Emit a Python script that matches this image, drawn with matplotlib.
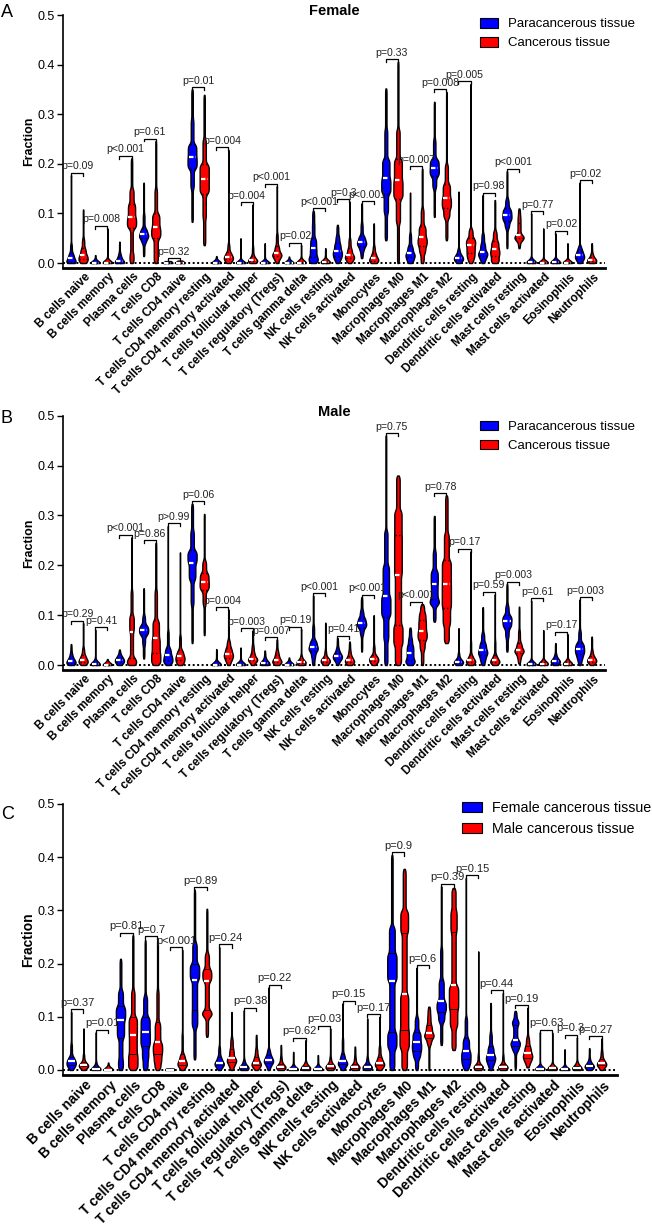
import matplotlib.pyplot as plt
import numpy as np
from matplotlib.patches import Patch

plt.rcParams['font.family'] = ['Liberation Sans', 'DejaVu Sans']

cell_types = ['B cells naive', 'B cells memory', 'Plasma cells', 'T cells CD8',
              'T cells CD4 naive', 'T cells CD4 memory resting',
              'T cells CD4 memory activated', 'T cells follicular helper',
              'T cells regulatory (Tregs)', 'T cells gamma delta',
              'NK cells resting', 'NK cells activated', 'Monocytes',
              'Macrophages M0', 'Macrophages M1', 'Macrophages M2',
              'Dendritic cells resting', 'Dendritic cells activated',
              'Mast cells resting', 'Mast cells activated', 'Eosinophils',
              'Neutrophils']

# every violin is given by its quantiles at these levels
qlevels = np.array([0, 0.10, 0.25, 0.50, 0.75, 0.90, 1.0])

# --- A: female, paracancerous vs cancerous
female_para = [
    [0, 0.001, 0.003, 0.01, 0.02, 0.04, 0.177],
    [0, 0, 0, 0, 0.001, 0.003, 0.016],
    [0, 0, 0.001, 0.004, 0.012, 0.02, 0.043],
    [0.014, 0.04, 0.05, 0.058, 0.07, 0.1, 0.162],
    [0, 0, 0, 0, 0, 0.001, 0.004],
    [0.083, 0.15, 0.19, 0.214, 0.24, 0.29, 0.35],
    [0, 0, 0, 0, 0.001, 0.003, 0.014],
    [0, 0, 0, 0, 0.001, 0.004, 0.05],
    [0, 0, 0, 0, 0.001, 0.004, 0.04],
    [0, 0, 0, 0, 0, 0.002, 0.013],
    [0, 0.005, 0.012, 0.03, 0.05, 0.08, 0.105],
    [0, 0.008, 0.015, 0.025, 0.04, 0.055, 0.077],
    [0.01, 0.025, 0.035, 0.043, 0.055, 0.08, 0.12],
    [0.046, 0.1, 0.14, 0.171, 0.21, 0.27, 0.352],
    [0, 0.005, 0.012, 0.02, 0.035, 0.06, 0.142],
    [0.093, 0.15, 0.175, 0.192, 0.21, 0.25, 0.325],
    [0, 0.003, 0.007, 0.011, 0.018, 0.03, 0.144],
    [0, 0.008, 0.015, 0.023, 0.04, 0.06, 0.137],
    [0.03, 0.07, 0.085, 0.097, 0.11, 0.13, 0.185],
    [0, 0, 0.001, 0.002, 0.004, 0.01, 0.1],
    [0, 0, 0.001, 0.002, 0.004, 0.008, 0.06],
    [0, 0.005, 0.01, 0.016, 0.025, 0.035, 0.162],
]
female_canc = [
    [0, 0.003, 0.008, 0.016, 0.03, 0.05, 0.108],
    [0, 0, 0, 0.001, 0.003, 0.008, 0.07],
    [0, 0.02, 0.07, 0.092, 0.12, 0.15, 0.211],
    [0, 0.02, 0.05, 0.072, 0.1, 0.15, 0.246],
    [0, 0, 0, 0, 0, 0.001, 0.005],
    [0.036, 0.09, 0.14, 0.17, 0.2, 0.25, 0.339],
    [0, 0.003, 0.008, 0.013, 0.022, 0.04, 0.228],
    [0, 0.002, 0.004, 0.006, 0.015, 0.035, 0.118],
    [0, 0.008, 0.014, 0.02, 0.035, 0.06, 0.155],
    [0, 0, 0, 0.001, 0.003, 0.008, 0.036],
    [0, 0, 0.001, 0.002, 0.004, 0.008, 0.03],
    [0, 0.005, 0.01, 0.016, 0.03, 0.05, 0.124],
    [0, 0.002, 0.005, 0.01, 0.02, 0.035, 0.08],
    [0, 0.08, 0.13, 0.167, 0.21, 0.27, 0.406],
    [0, 0.02, 0.035, 0.052, 0.075, 0.11, 0.19],
    [0.046, 0.09, 0.11, 0.132, 0.16, 0.2, 0.345],
    [0, 0.01, 0.02, 0.036, 0.05, 0.07, 0.361],
    [0, 0.005, 0.015, 0.028, 0.045, 0.065, 0.127],
    [0.03, 0.045, 0.05, 0.056, 0.08, 0.095, 0.11],
    [0, 0, 0, 0.001, 0.002, 0.005, 0.07],
    [0, 0, 0, 0.001, 0.002, 0.004, 0.04],
    [0, 0.002, 0.004, 0.006, 0.012, 0.02, 0.04],
]
female_p = ['p=0.09', 'p=0.008', 'p<0.001', 'p=0.61', 'p=0.32', 'p=0.01',
            'p=0.004', 'p=0.004', 'p<0.001', 'p=0.02', 'p<0.001', 'p=0.3',
            'p<0.001', 'p=0.33', 'p=0.007', 'p=0.008', 'p=0.005', 'p=0.98',
            'p<0.001', 'p=0.77', 'p=0.02', 'p=0.02']

# --- B: male, paracancerous vs cancerous
male_para = [
    [0, 0.002, 0.004, 0.008, 0.015, 0.025, 0.042],
    [0, 0, 0.001, 0.002, 0.005, 0.012, 0.071],
    [0, 0.003, 0.006, 0.01, 0.015, 0.02, 0.031],
    [0.013, 0.04, 0.06, 0.07, 0.08, 0.1, 0.154],
    [0, 0.005, 0.01, 0.02, 0.035, 0.07, 0.279],
    [0.044, 0.12, 0.17, 0.205, 0.23, 0.27, 0.323],
    [0, 0, 0, 0.001, 0.003, 0.008, 0.032],
    [0, 0, 0, 0.001, 0.003, 0.008, 0.035],
    [0, 0, 0.002, 0.004, 0.008, 0.015, 0.029],
    [0, 0, 0, 0, 0.002, 0.005, 0.015],
    [0, 0.015, 0.028, 0.037, 0.05, 0.08, 0.139],
    [0, 0.008, 0.013, 0.018, 0.025, 0.035, 0.054],
    [0.027, 0.06, 0.075, 0.084, 0.095, 0.11, 0.136],
    [0, 0.05, 0.097, 0.139, 0.2, 0.27, 0.46],
    [0, 0.005, 0.01, 0.025, 0.04, 0.055, 0.075],
    [0.087, 0.12, 0.132, 0.162, 0.19, 0.23, 0.299],
    [0, 0.002, 0.004, 0.007, 0.012, 0.025, 0.074],
    [0, 0.01, 0.02, 0.03, 0.045, 0.065, 0.116],
    [0.027, 0.055, 0.075, 0.088, 0.1, 0.12, 0.162],
    [0, 0, 0.001, 0.002, 0.004, 0.01, 0.129],
    [0, 0.002, 0.005, 0.008, 0.013, 0.022, 0.044],
    [0, 0.012, 0.022, 0.033, 0.045, 0.07, 0.131],
]
male_canc = [
    [0, 0.003, 0.006, 0.011, 0.02, 0.035, 0.084],
    [0, 0, 0, 0, 0.001, 0.003, 0.012],
    [0, 0.005, 0.015, 0.067, 0.1, 0.15, 0.256],
    [0, 0.01, 0.025, 0.054, 0.09, 0.15, 0.245],
    [0, 0.004, 0.01, 0.018, 0.03, 0.06, 0.226],
    [0.06, 0.12, 0.15, 0.167, 0.185, 0.21, 0.303],
    [0, 0.008, 0.015, 0.023, 0.035, 0.05, 0.111],
    [0, 0.005, 0.01, 0.013, 0.025, 0.04, 0.069],
    [0, 0.003, 0.006, 0.01, 0.02, 0.03, 0.051],
    [0, 0.002, 0.004, 0.006, 0.01, 0.02, 0.072],
    [0, 0.003, 0.006, 0.01, 0.015, 0.03, 0.085],
    [0, 0.003, 0.006, 0.01, 0.018, 0.03, 0.047],
    [0, 0.004, 0.008, 0.013, 0.02, 0.04, 0.1],
    [0, 0.04, 0.08, 0.18, 0.26, 0.31, 0.38],
    [0, 0.03, 0.05, 0.068, 0.09, 0.105, 0.122],
    [0.044, 0.08, 0.115, 0.162, 0.21, 0.264, 0.34],
    [0, 0.003, 0.006, 0.01, 0.02, 0.05, 0.228],
    [0, 0.003, 0.006, 0.01, 0.02, 0.05, 0.142],
    [0.003, 0.015, 0.025, 0.031, 0.045, 0.07, 0.117],
    [0, 0, 0.001, 0.003, 0.006, 0.01, 0.07],
    [0, 0, 0.001, 0.003, 0.006, 0.012, 0.062],
    [0, 0.004, 0.007, 0.011, 0.018, 0.03, 0.057],
]
male_p = ['p=0.29', 'p=0.41', 'p<0.001', 'p=0.86', 'p>0.99', 'p=0.06',
          'p=0.004', 'p=0.003', 'p=0.007', 'p=0.19', 'p<0.001', 'p=0.41',
          'p<0.001', 'p=0.75', 'p<0.001', 'p=0.78', 'p=0.17', 'p=0.59',
          'p=0.003', 'p=0.61', 'p=0.17', 'p=0.003']

# --- C: female cancerous vs male cancerous
fem_tumour = [
    [0, 0.005, 0.01, 0.016, 0.025, 0.05, 0.109],
    [0, 0, 0.001, 0.002, 0.005, 0.015, 0.071],
    [0, 0.02, 0.06, 0.094, 0.12, 0.15, 0.209],
    [0, 0.021, 0.045, 0.072, 0.1, 0.14, 0.244],
    [0, 0, 0, 0, 0, 0.001, 0.003],
    [0.02, 0.08, 0.112, 0.169, 0.2, 0.24, 0.339],
    [0, 0.005, 0.01, 0.014, 0.025, 0.045, 0.231],
    [0, 0.001, 0.003, 0.005, 0.01, 0.02, 0.112],
    [0, 0.008, 0.014, 0.019, 0.028, 0.04, 0.155],
    [0, 0, 0, 0.001, 0.003, 0.008, 0.034],
    [0, 0, 0, 0.001, 0.003, 0.008, 0.028],
    [0, 0.006, 0.011, 0.016, 0.03, 0.06, 0.125],
    [0, 0.002, 0.004, 0.006, 0.012, 0.025, 0.097],
    [0, 0.04, 0.072, 0.167, 0.219, 0.27, 0.404],
    [0, 0.022, 0.035, 0.052, 0.072, 0.1, 0.192],
    [0.047, 0.09, 0.109, 0.13, 0.17, 0.23, 0.345],
    [0, 0.01, 0.02, 0.036, 0.06, 0.1, 0.361],
    [0, 0.01, 0.018, 0.028, 0.045, 0.07, 0.126],
    [0.003, 0.035, 0.045, 0.056, 0.085, 0.094, 0.111],
    [0, 0, 0.001, 0.002, 0.004, 0.008, 0.071],
    [0, 0, 0, 0.001, 0.002, 0.005, 0.039],
    [0, 0.003, 0.005, 0.0075, 0.012, 0.02, 0.041],
]
male_tumour = [
    [0, 0.004, 0.007, 0.009, 0.015, 0.03, 0.078],
    [0, 0, 0, 0, 0.001, 0.003, 0.014],
    [0, 0.012, 0.03, 0.066, 0.1, 0.15, 0.253],
    [0, 0.014, 0.03, 0.052, 0.09, 0.15, 0.247],
    [0, 0.006, 0.01, 0.017, 0.03, 0.07, 0.226],
    [0.0625, 0.1, 0.112, 0.167, 0.19, 0.22, 0.303],
    [0, 0.008, 0.015, 0.022, 0.04, 0.06, 0.109],
    [0, 0.005, 0.009, 0.014, 0.025, 0.04, 0.066],
    [0, 0.002, 0.004, 0.006, 0.012, 0.025, 0.047],
    [0, 0.001, 0.002, 0.004, 0.008, 0.015, 0.056],
    [0, 0.002, 0.004, 0.007, 0.012, 0.025, 0.078],
    [0, 0.002, 0.004, 0.006, 0.012, 0.025, 0.044],
    [0, 0.005, 0.009, 0.014, 0.025, 0.045, 0.1],
    [0, 0.04, 0.075, 0.1425, 0.2575, 0.3, 0.378],
    [0, 0.047, 0.06, 0.069, 0.085, 0.103, 0.119],
    [0.0375, 0.08, 0.114, 0.159, 0.259, 0.3, 0.342],
    [0, 0.002, 0.004, 0.006, 0.012, 0.03, 0.223],
    [0, 0.002, 0.004, 0.006, 0.012, 0.03, 0.145],
    [0.005, 0.015, 0.022, 0.031, 0.045, 0.0625, 0.117],
    [0, 0, 0.001, 0.003, 0.006, 0.01, 0.07],
    [0, 0.001, 0.002, 0.004, 0.008, 0.015, 0.061],
    [0, 0.005, 0.009, 0.0125, 0.02, 0.035, 0.059],
]
tumour_p = ['p=0.37', 'p=0.01', 'p=0.81', 'p=0.7', 'p<0.001', 'p=0.89',
            'p=0.24', 'p=0.38', 'p=0.22', 'p=0.62', 'p=0.03', 'p=0.15',
            'p=0.17', 'p=0.9', 'p=0.6', 'p=0.39', 'p=0.15', 'p=0.44',
            'p=0.19', 'p=0.63', 'p=0.3', 'p=0.27']

BLUE = '#0000ff'
RED = '#ff0000'
W, H = 652, 1232


def violin_stats(q):
    # density from the quantiles (piecewise constant), lightly smoothed
    q = np.asarray(q, dtype=float)
    step, sigma = 0.0005, 0.004
    pad = 4 * sigma
    grid = np.arange(q[0] - pad, q[-1] + pad + step, step)
    dens = np.zeros(grid.size)
    for a, b, dp in zip(q[:-1], q[1:], np.diff(qlevels)):
        if b - a > step:
            dens[(grid >= a) & (grid < b)] += dp / (b - a)
        else:
            dens[np.abs(grid - a).argmin()] += dp / step
    k = np.arange(-pad, pad + step / 2, step)
    kern = np.exp(-0.5 * (k / sigma) ** 2)
    dens = np.convolve(dens, kern / kern.sum(), mode='same')
    keep = (grid >= q[0] - 1e-9) & (grid <= q[-1] + 1e-9)
    return {'coords': grid[keep], 'vals': dens[keep], 'mean': q[3],
            'median': q[3], 'min': q[0], 'max': q[-1]}


def draw_panel(ax, blue, red, pvals, solid_marks=False, fs_p=7.6, fs_x=8.5,
               fs_y=9):
    width = 0.75
    ax.axhline(0, color='black', lw=1.4, ls=(0, (1, 1.3)), zorder=1)
    for i in range(len(cell_types)):
        for j, (q, col) in enumerate([(blue[i], BLUE), (red[i], RED)]):
            pos = 2 * i + j
            st = violin_stats(q)
            parts = ax.violin([st], positions=[pos], widths=width,
                              showextrema=False)
            body = parts['bodies'][0]
            body.set_facecolor(col)
            body.set_edgecolor('black')
            body.set_linewidth(1.0)
            body.set_alpha(1)
            body.set_zorder(2)
            vmax = st['vals'].max()
            for lev, c in [(q[2], 'black'), (q[4], 'black'), (q[3], 'white')]:
                hw = 0.5 * width * np.interp(lev, st['coords'], st['vals']) / vmax
                if hw < 0.08:
                    continue
                if c == 'white':
                    ls = '-' if solid_marks else (0, (2, 1))
                    lw = 1.6
                else:
                    ls = '-' if solid_marks else (0, (1, 1.5))
                    lw = 0.7 if solid_marks else 1.0
                ax.plot([pos - 0.8 * hw, pos + 0.8 * hw], [lev, lev], color=c,
                        lw=lw, ls=ls, zorder=3, solid_capstyle='butt')
        # bracket with p value
        top = max(blue[i][-1], red[i][-1]) + 0.005
        x0, x1 = 2 * i, 2 * i + 1
        ax.plot([x0, x0, x1, x1], [top - 0.006, top, top, top - 0.006],
                color='black', lw=0.9, zorder=4)
        ax.annotate(pvals[i], ((x0 + x1) / 2, top), xytext=(0, 1),
                    textcoords='offset points', ha='center', va='bottom',
                    fontsize=fs_p, color='#222222', zorder=5)

    ax.set_ylim(-0.01, 0.5)
    ax.set_yticks([0, 0.1, 0.2, 0.3, 0.4, 0.5])
    ax.set_yticklabels(['0.0', '0.1', '0.2', '0.3', '0.4', '0.5'], fontsize=9)
    # labels hang from just right of each pair, as in the original
    ax.set_xticks([2 * i + 1.1 for i in range(len(cell_types))])
    ax.set_xticklabels(cell_types, rotation=45, ha='right', va='top',
                       rotation_mode='anchor', fontsize=fs_x, fontweight='bold')
    ax.tick_params(axis='x', length=0, pad=2)
    ax.tick_params(axis='y', length=4, width=1, direction='out', pad=2)
    ax.spines['top'].set_visible(False)
    ax.spines['right'].set_visible(False)
    ax.spines['left'].set_linewidth(1.2)
    ax.spines['bottom'].set_linewidth(2.0)
    ax.set_ylabel('Fraction', fontsize=fs_y, fontweight='bold')


fig = plt.figure(figsize=(W / 100, H / 100), dpi=100)


def add_axes_px(left, top, right, bottom):
    return fig.add_axes([left / W, 1 - bottom / H, (right - left) / W,
                         (bottom - top) / H])


panels = [
    dict(letter='A', blue=female_para, red=female_canc, pv=female_p,
         box=(63, 15, 605, 268), xr=44.1, title='Female',
         labels=['Paracancerous tissue', 'Cancerous tissue'],
         leg=(480, 18), fs_leg=9.5, lety=4, solid=False,
         fs_p=7.6, fs_x=8.5, fs_y=9),
    dict(letter='B', blue=male_para, red=male_canc, pv=male_p,
         box=(63, 415.7, 605, 670), xr=44.1, title='Male',
         labels=['Paracancerous tissue', 'Cancerous tissue'],
         leg=(480, 420.5), fs_leg=9.5, lety=410, solid=False,
         fs_p=7.6, fs_x=8.5, fs_y=9),
    dict(letter='C', blue=fem_tumour, red=male_tumour, pv=tumour_p,
         box=(63, 804, 617, 1075.3), xr=44.25, title=None,
         labels=['Female cancerous tissue', 'Male cancerous tissue'],
         leg=(462, 801), fs_leg=10.3, lety=806, solid=True,
         fs_p=8, fs_x=10, fs_y=10),
]

for p in panels:
    box = p['box']
    ax = add_axes_px(*box)
    draw_panel(ax, p['blue'], p['red'], p['pv'], solid_marks=p['solid'],
               fs_p=p['fs_p'], fs_x=p['fs_x'], fs_y=p['fs_y'])
    ax.set_xlim(-0.66, p['xr'])
    ax.yaxis.set_label_coords((35 - box[0]) / (box[2] - box[0]), 0.5)
    if p['title']:
        ax.text(0.5, 1.0, p['title'], transform=ax.transAxes, ha='center',
                va='baseline', fontsize=10.5, fontweight='bold')
    handles = [Patch(facecolor=BLUE, edgecolor='black', lw=0.8),
               Patch(facecolor=RED, edgecolor='black', lw=0.8)]
    fig.legend(handles, p['labels'], loc='upper left',
               bbox_to_anchor=(p['leg'][0] / W, 1 - p['leg'][1] / H),
               frameon=False, fontsize=p['fs_leg'], handlelength=1.4,
               handleheight=0.75, handletextpad=0.7, labelspacing=0.5,
               borderpad=0, borderaxespad=0)
    fig.text(1 / W, 1 - p['lety'] / H, p['letter'], fontsize=13, ha='left',
             va='top')

fig.savefig('out.png', dpi=100)
